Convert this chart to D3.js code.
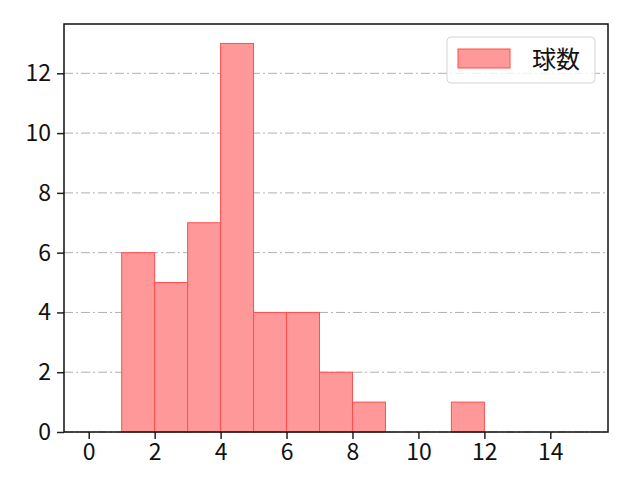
<!DOCTYPE html>
<html><head><meta charset="utf-8">
<script src="https://cdn.jsdelivr.net/npm/d3@7"></script>
<style>body{margin:0;background:#fff;} text{font-family:"Noto Sans CJK JP","Noto Sans",sans-serif;}</style>
</head><body><svg id="c" width="640" height="480"></svg>
<script>
const binStarts = [1, 2, 3, 4, 5, 6, 7, 8, 11];
const binEnds   = [2, 3, 4, 5, 6, 7, 8, 9, 12];
const counts    = [6, 5, 7, 13, 4, 4, 2, 1, 1];
const xTicks = [0, 2, 4, 6, 8, 10, 12, 14];
const yTicks = [0, 2, 4, 6, 8, 10, 12];
const seriesName = "球数";

const svg = d3.select("#c");
const L = 64, R = 608, T = 24, B = 432;
const x = d3.scaleLinear().domain([-0.75, 15.75]).range([L, R]);
const y = d3.scaleLinear().domain([0, 13.65]).range([B, T]);

// grid
svg.append("g").selectAll("line").data(yTicks).join("line")
  .attr("x1", L).attr("x2", R).attr("y1", d => y(d)).attr("y2", d => y(d))
  .attr("stroke", "#b0b0b0").attr("stroke-width", 1)
  .attr("stroke-dasharray", "9,3,2,3");

// bars
svg.append("g").selectAll("rect").data(counts).join("rect")
  .attr("x", (d, i) => x(binStarts[i]))
  .attr("width", (d, i) => x(binEnds[i]) - x(binStarts[i]))
  .attr("y", d => y(d)).attr("height", d => B - y(d))
  .attr("fill", "#ff9999").attr("stroke", "#ff4d4d").attr("stroke-width", 1);

// axes
const xa = svg.append("g").attr("transform", `translate(0,${B})`)
  .call(d3.axisBottom(x).tickValues(xTicks).tickSize(7).tickPadding(5).tickFormat(d3.format("d")));
const ya = svg.append("g").attr("transform", `translate(${L},0)`)
  .call(d3.axisLeft(y).tickValues(yTicks).tickSize(7).tickPadding(6).tickFormat(d3.format("d")));
[xa, ya].forEach(a => {
  a.select(".domain").remove();
  a.selectAll("line").attr("stroke", "#222").attr("stroke-width", 1.5);
  a.selectAll("text").attr("font-size", 23).attr("fill", "#111")
   .style("font-family", '"Noto Sans CJK JP","Noto Sans",sans-serif');
});
svg.append("rect").attr("x", L).attr("y", T).attr("width", R - L).attr("height", B - T)
  .attr("fill", "none").attr("stroke", "#111").attr("stroke-width", 1.5);

// legend
const lg = svg.append("g");
lg.append("rect").attr("x", 447).attr("y", 37).attr("width", 148).attr("height", 46).attr("rx", 4)
  .attr("fill", "#fff").attr("fill-opacity", 0.8).attr("stroke", "#d5d5d5").attr("stroke-width", 1);
lg.append("rect").attr("x", 458).attr("y", 49).attr("width", 52).attr("height", 19)
  .attr("fill", "#ff9999").attr("stroke", "#ff4d4d").attr("stroke-width", 1);
lg.append("text").attr("x", 532).attr("y", 68).attr("font-size", 24).attr("fill", "#111").text(seriesName);
</script></body></html>
